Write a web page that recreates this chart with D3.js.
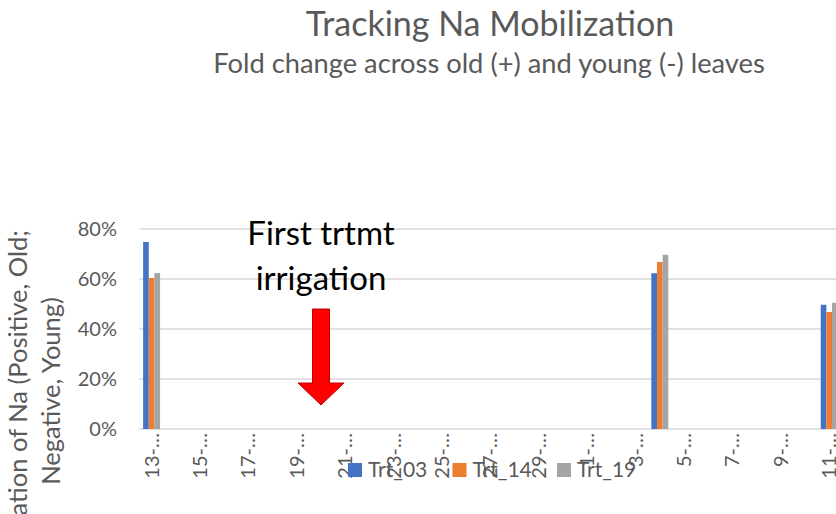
<!DOCTYPE html>
<html>
<head>
<meta charset="utf-8">
<script src="https://cdn.jsdelivr.net/npm/d3@7"></script>
<style>
  body { margin: 0; background: #fff; }
  svg { display: block; font-family: Lato, "Open Sans", sans-serif; }
</style>
</head>
<body>
<div id="viz"></div>
<script>
// Chart data
const categories = [
    "13-Jun", "14-Jun", "15-Jun", "16-Jun", "17-Jun", "18-Jun", "19-Jun", "20-Jun",
    "21-Jun", "22-Jun", "23-Jun", "24-Jun", "25-Jun", "26-Jun", "27-Jun", "28-Jun",
    "29-Jun", "30-Jun", "1-Jul", "2-Jul", "3-Jul", "4-Jul", "5-Jul", "6-Jul",
    "7-Jul", "8-Jul", "9-Jul", "10-Jul", "11-Jul", "12-Jul"
];
const seriesNames = ["Trt_03", "Trt_14", "Trt_19"];
const sampleDates = ["13-Jun", "4-Jul", "11-Jul"];
const trt03 = [0.748, 0.623, 0.497];
const trt14 = [0.604, 0.668, 0.468];
const trt19 = [0.624, 0.697, 0.505];
const yTicks = [0, 0.2, 0.4, 0.6, 0.8];
const irrigationDate = "20-Jun";

const width = 836;
const height = 514;
const colors = ["#4472C4", "#ED7D31", "#A5A5A5"];
const textColor = "#595959";

const svg = d3.select("#viz")
    .append("svg")
    .attr("width", width)
    .attr("height", height);

// Scales
const x = d3.scaleBand()
    .domain(categories)
    .range([139.5, 865.5])
    .paddingInner(0.3)
    .paddingOuter(0.15);

const xSub = d3.scaleBand()
    .domain(seriesNames)
    .range([0, x.bandwidth()]);

const y = d3.scaleLinear()
    .domain([0, 0.8])
    .range([429, 229]);

// Titles
svg.append("text")
    .attr("x", 490)
    .attr("y", 36)
    .attr("text-anchor", "middle")
    .style("font-size", "34px")
    .style("fill", textColor)
    .text("Tracking Na Mobilization");

svg.append("text")
    .attr("x", 489)
    .attr("y", 73)
    .attr("text-anchor", "middle")
    .style("font-size", "27.3px")
    .style("fill", textColor)
    .text("Fold change across old (+) and young (-) leaves");

// Gridlines
svg.append("g")
    .selectAll("line")
    .data(yTicks)
    .enter()
    .append("line")
    .attr("x1", x.range()[0])
    .attr("x2", width)
    .attr("y1", d => y(d))
    .attr("y2", d => y(d))
    .style("stroke", "#d9d9d9")
    .style("stroke-width", 1.5);

// Y axis labels
svg.append("g")
    .selectAll("text")
    .data(yTicks)
    .enter()
    .append("text")
    .attr("x", 117)
    .attr("y", d => y(d))
    .attr("dy", "0.35em")
    .attr("text-anchor", "end")
    .style("font-size", "20px")
    .style("fill", textColor)
    .text(d => d3.format(".0%")(d));

// Y axis title, two lines, cut by the left edge as in the original
svg.append("text")
    .attr("transform", "translate(27, 230) rotate(-90)")
    .attr("text-anchor", "end")
    .style("font-size", "25.5px")
    .style("fill", textColor)
    .text("Translocation of Na (Positive, Old;");

svg.append("text")
    .attr("transform", "translate(60, 391) rotate(-90)")
    .attr("text-anchor", "middle")
    .style("font-size", "25.5px")
    .style("fill", textColor)
    .text("Negative, Young)");

// Bars
const barData = [];
sampleDates.forEach((date, i) => {
    [trt03, trt14, trt19].forEach((values, s) => {
        barData.push({ date: date, series: seriesNames[s], value: values[i], color: colors[s] });
    });
});

svg.append("g")
    .selectAll("rect")
    .data(barData)
    .enter()
    .append("rect")
    .attr("x", d => x(d.date) + xSub(d.series))
    .attr("y", d => y(d.value))
    .attr("width", xSub.bandwidth())
    .attr("height", d => y(0) - y(d.value))
    .style("fill", d => d.color);

// X axis labels, every other date, truncated like the original
svg.append("g")
    .selectAll("text")
    .data(categories.filter((d, i) => i % 2 === 0))
    .enter()
    .append("text")
    .attr("transform", d => `translate(${x(d) + x.bandwidth() / 2}, 433) rotate(-90)`)
    .attr("dy", "0.35em")
    .attr("text-anchor", "end")
    .style("font-size", "20px")
    .style("fill", textColor)
    .text(d => d.split("-")[0] + "-\u2026");

// Annotation: first treatment irrigation
const ax = x(irrigationDate) + x.bandwidth() / 2;
const annot = svg.append("text")
    .attr("text-anchor", "middle")
    .style("font-size", "33px")
    .style("fill", "#000");
annot.append("tspan").attr("x", ax).attr("y", 245).text("First trtmt");
annot.append("tspan").attr("x", ax).attr("y", 290).text("irrigation");

const shaftTop = y(0.48), headBase = y(0.184), tip = y(0.096);
svg.append("path")
    .attr("d", `M${ax - 8.5},${shaftTop} H${ax + 8.5} V${headBase} H${ax + 23}
                L${ax},${tip} L${ax - 23},${headBase} H${ax - 8.5} Z`)
    .style("fill", "#FF0000")
    .style("stroke", "#C00000")
    .style("stroke-width", 1);

// Legend
const legend = svg.append("g")
    .selectAll("g")
    .data(seriesNames)
    .enter()
    .append("g")
    .attr("transform", (d, i) => `translate(${348 + i * 104.5}, 463)`);

legend.append("rect")
    .attr("width", 14)
    .attr("height", 14)
    .style("fill", (d, i) => colors[i]);

legend.append("text")
    .attr("x", 20)
    .attr("y", 7)
    .attr("dy", "0.35em")
    .style("font-size", "21px")
    .style("fill", textColor)
    .text(d => d);
</script>
</body>
</html>
